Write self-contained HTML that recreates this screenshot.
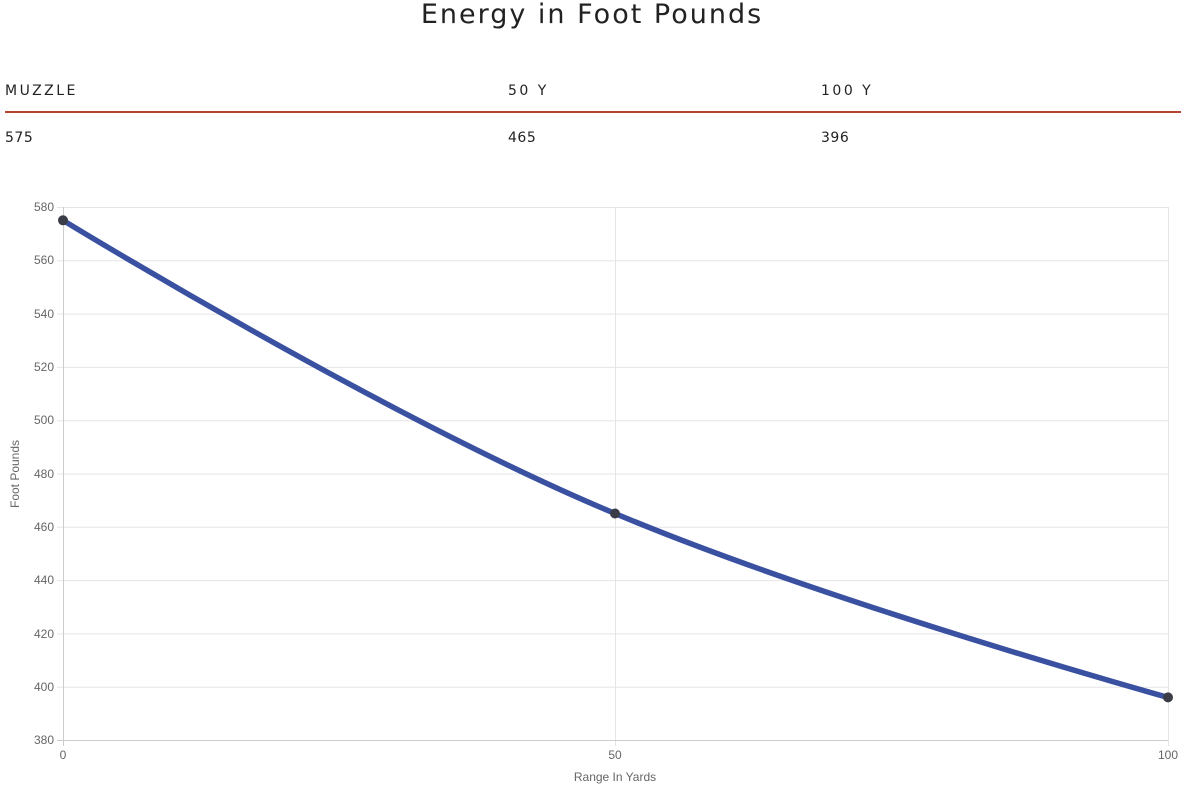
<!DOCTYPE html>
<html><head><style>
body{margin:0;width:1184px;height:789px;background:#fff;font-family:"DejaVu Sans","Liberation Sans",sans-serif;color:#222;position:relative;overflow:hidden}
.t{position:absolute;top:-1px;left:0;width:1184px;text-align:center;font-size:27px;letter-spacing:2px;color:#222}
.h{position:absolute;top:83px;font-size:14px;letter-spacing:2.5px}
.v{position:absolute;top:130px;font-size:14px;letter-spacing:0.5px}
.line{position:absolute;left:5px;width:1176px;top:111px;height:2px;background:#b5432f}
</style></head><body>
<div class="t">Energy in Foot Pounds</div>
<div class="h" style="left:5px">MUZZLE</div>
<div class="h" style="left:508px">50 Y</div>
<div class="h" style="left:821px">100 Y</div>
<div class="line"></div>
<div class="v" style="left:5px">575</div>
<div class="v" style="left:508px">465</div>
<div class="v" style="left:821px">396</div>
<svg width="1184" height="789" style="position:absolute;left:0;top:0" font-family="Liberation Sans, sans-serif" font-size="12" fill="#666">
<g stroke="#e5e5e5" stroke-width="1">
<line x1="57" x2="1168" y1="207.5" y2="207.5"/><line x1="57" x2="1168" y1="260.8" y2="260.8"/><line x1="57" x2="1168" y1="314.1" y2="314.1"/><line x1="57" x2="1168" y1="367.4" y2="367.4"/><line x1="57" x2="1168" y1="420.7" y2="420.7"/><line x1="57" x2="1168" y1="474" y2="474"/><line x1="57" x2="1168" y1="527.3" y2="527.3"/><line x1="57" x2="1168" y1="580.6" y2="580.6"/><line x1="57" x2="1168" y1="633.9" y2="633.9"/><line x1="57" x2="1168" y1="687.2" y2="687.2"/>
<line x1="615.5" x2="615.5" y1="207" y2="746"/><line x1="1168.5" x2="1168.5" y1="207" y2="746"/>
</g>
<g stroke="#ccc"><line x1="57" x2="1168" y1="740.5" y2="740.5"/><line x1="63.5" x2="63.5" y1="207" y2="746"/></g>
<g text-anchor="end">
<text x="54" y="211">580</text><text x="54" y="264">560</text><text x="54" y="318">540</text><text x="54" y="371">520</text><text x="54" y="424">500</text><text x="54" y="478">480</text><text x="54" y="531">460</text><text x="54" y="584">440</text><text x="54" y="638">420</text><text x="54" y="691">400</text><text x="54" y="744">380</text>
</g>
<g text-anchor="middle">
<text x="63" y="759">0</text><text x="615" y="759">50</text><text x="1168" y="759">100</text>
<text x="615" y="781">Range In Yards</text>
<text transform="translate(19,474) rotate(-90)">Foot Pounds</text>
</g>
<path d="M63 220.3 C63 220.3 386 418 615 513.5 C828 603 1168 697.4 1168 697.4" fill="none" stroke="#3a50a0" stroke-width="5.5"/>
<g fill="#3a3d48"><circle cx="63" cy="220.3" r="5"/><circle cx="615" cy="513.5" r="5"/><circle cx="1168" cy="697.4" r="5"/></g>
</svg>
</body></html>
